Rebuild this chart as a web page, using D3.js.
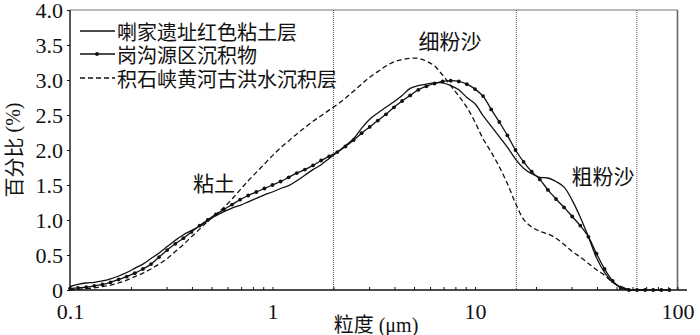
<!DOCTYPE html>
<html><head><meta charset="utf-8">
<script src="https://cdn.jsdelivr.net/npm/d3@7"></script>
<style>
html,body{margin:0;padding:0;background:#fff;}
svg{display:block;}
</style></head>
<body>
<script>
// particle size grid (μm)
const sizes = [0.1000,0.1096,0.1202,0.1318,0.1445,0.1585,0.1738,0.1905,0.2089,0.2291,
0.2512,0.2754,0.3020,0.3311,0.3631,0.3981,0.4365,0.4786,0.5248,0.5754,
0.6310,0.6918,0.7586,0.8318,0.9120,1.000,1.096,1.202,1.318,1.445,
1.585,1.738,1.905,2.089,2.291,2.512,2.754,3.020,3.311,3.631,
3.981,4.365,4.786,5.248,5.754,6.310,6.918,7.586,8.318,9.120,
10.00,10.96,12.02,13.18,14.45,15.85,17.38,19.05,20.89,22.91,
25.12,27.54,30.20,33.11,36.31,39.81,43.65,47.86,52.48,57.54,
63.10,69.18,75.86,83.18,91.20,100.0];

// 喇家遗址红色粘土层 (solid)
const lajia = [0.05,0.08,0.10,0.11,0.13,0.16,0.20,0.25,0.31,0.37,
0.45,0.53,0.62,0.71,0.79,0.85,0.91,0.99,1.06,1.12,
1.17,1.21,1.26,1.31,1.36,1.40,1.45,1.49,1.56,1.64,
1.72,1.79,1.88,1.97,2.06,2.16,2.31,2.44,2.53,2.61,
2.69,2.78,2.88,2.92,2.94,2.96,2.96,2.92,2.86,2.75,
2.66,2.49,2.34,2.19,2.04,1.87,1.74,1.66,1.61,1.60,
1.55,1.47,1.28,1.04,0.76,0.46,0.25,0.11,0.04,0.01,
0,0,0,0,0,0];

// 岗沟源区沉积物 (line + dots)
const gangou = [0.02,0.03,0.04,0.06,0.08,0.11,0.15,0.19,0.24,0.30,
0.37,0.47,0.57,0.66,0.74,0.83,0.92,1.00,1.08,1.15,
1.22,1.29,1.35,1.40,1.45,1.50,1.55,1.61,1.67,1.72,
1.78,1.85,1.91,1.97,2.05,2.14,2.24,2.33,2.42,2.51,
2.61,2.70,2.78,2.86,2.91,2.95,2.98,2.99,2.98,2.94,
2.87,2.77,2.58,2.40,2.21,2.00,1.83,1.69,1.58,1.43,
1.30,1.18,1.05,0.92,0.76,0.52,0.30,0.13,0.03,0,
0,0,0,0,0,0];

// 积石峡黄河古洪水沉积层 (dashed)
const jishixia = [0.00,0.01,0.02,0.03,0.05,0.07,0.10,0.14,0.19,0.24,
0.30,0.37,0.45,0.55,0.65,0.76,0.87,0.98,1.08,1.18,
1.30,1.43,1.56,1.68,1.80,1.92,2.03,2.13,2.23,2.32,
2.41,2.49,2.57,2.65,2.74,2.84,2.94,3.04,3.12,3.20,
3.26,3.29,3.31,3.31,3.27,3.20,3.07,2.92,2.77,2.61,
2.40,2.16,1.97,1.76,1.52,1.24,1.01,0.90,0.84,0.80,
0.74,0.65,0.55,0.47,0.38,0.29,0.21,0.11,0.05,0.01,
0,0,0,0,0,0];

const seriesNames = ["喇家遗址红色粘土层","岗沟源区沉积物","积石峡黄河古洪水沉积层"];
const yTicks = [0,0.5,1.0,1.5,2.0,2.5,3.0,3.5,4.0];
const xMajor = [0.1,1,10,100];
const boundaries = [2,16,63];
const zoneLabels = [{t:"粘土",x:0.514,y:1.55},{t:"细粉沙",x:7.53,y:3.57},{t:"粗粉沙",x:42.9,y:1.64}];

const SERIF = '"Liberation Serif","Times New Roman",serif';
const CJK = '"Noto Sans CJK SC","Noto Sans",sans-serif';

const W=700,H=335;
const svg=d3.select("body").append("svg").attr("width",W).attr("height",H);
const x=d3.scaleLog().domain([0.1,100]).range([70,677.5]);
const y=d3.scaleLinear().domain([0,4]).range([290,10]);

// frame: top and right in gray
svg.append("line").attr("x1",70).attr("x2",677.5).attr("y1",10).attr("y2",10).attr("stroke","#777").attr("stroke-width",1.2);
svg.append("line").attr("x1",677.5).attr("x2",677.5).attr("y1",10).attr("y2",290).attr("stroke","#666").attr("stroke-width",1.6);

// boundaries
svg.selectAll(".bd").data(boundaries).enter().append("line")
 .attr("x1",d=>x(d)).attr("x2",d=>x(d)).attr("y1",y(4)).attr("y2",y(0))
 .attr("stroke","#555").attr("stroke-width",1).attr("stroke-dasharray","1,1");

// tick list (major + minor)
const xTicksAll=[];
[0.1,1,10].forEach(b=>{for(let k=1;k<10;k++)xTicksAll.push(b*k);});
xTicksAll.push(100);

const xa=d3.axisBottom(x).tickValues(xTicksAll).tickSize(-3).tickPadding(13)
 .tickFormat(d=>xMajor.some(m=>Math.abs(m-d)<1e-9)?(Math.abs(d-0.1)<1e-9?"0.1":String(Math.round(d))):"");
const gx=svg.append("g").attr("transform","translate(0,290)").call(xa);
gx.attr("font-family",null).attr("font-size",null);
gx.select(".domain").remove();
gx.selectAll("text").style("font-family",SERIF).style("font-size","22px").attr("fill","#111");
gx.selectAll("line").attr("stroke","#111");
svg.append("line").attr("x1",70).attr("x2",687).attr("y1",290).attr("y2",290).attr("stroke","#111").attr("stroke-width",1.6);

const ya=d3.axisLeft(y).tickValues(yTicks).tickSize(3).tickPadding(4)
 .tickFormat(d=>d===0?"0":d.toFixed(1));
const gy=svg.append("g").attr("transform","translate(70,0)").call(ya);
gy.attr("font-family",null).attr("font-size",null);
gy.select(".domain").remove();
gy.selectAll("text").style("font-family",SERIF).style("font-size","22px").attr("fill","#111");
gy.selectAll("line").attr("stroke","#111");
svg.append("line").attr("x1",70).attr("x2",70).attr("y1",10).attr("y2",290).attr("stroke","#111").attr("stroke-width",1.4);

// axis titles
const yt=svg.append("text").attr("transform","translate(13,150) rotate(-90)")
 .attr("text-anchor","middle").attr("dominant-baseline","central").style("font-size","20px").attr("fill","#111");
yt.append("tspan").style("font-family",CJK).text("百分比");
yt.append("tspan").style("font-family",SERIF).text(" (%)");
const xt=svg.append("text").attr("x",376).attr("y",332).attr("text-anchor","middle").style("font-size","20px").attr("fill","#111");
xt.append("tspan").style("font-family",CJK).text("粒度");
xt.append("tspan").style("font-family",SERIF).text(" (μm)");

// lines
const clipTo=(arr,maxX)=>arr.map((v,i)=>({v,i})).filter(o=>sizes[o.i]<=maxX);
const lineObj=d3.line().x(o=>x(sizes[o.i])).y(o=>y(o.v)).curve(d3.curveCatmullRom.alpha(0.5));

svg.append("path").attr("d",lineObj(clipTo(jishixia,70))).attr("fill","none").attr("stroke","#111").attr("stroke-width",1.3).attr("stroke-dasharray","5,3");
svg.append("path").attr("d",lineObj(clipTo(lajia,70))).attr("fill","none").attr("stroke","#111").attr("stroke-width",1.3);
svg.append("path").attr("d",lineObj(clipTo(gangou,92))).attr("fill","none").attr("stroke","#111").attr("stroke-width",1.3);
svg.selectAll(".pt").data(clipTo(gangou,92)).enter().append("circle")
 .attr("cx",o=>x(sizes[o.i])).attr("cy",o=>y(o.v)).attr("r",1.9).attr("fill","#111");

// zone labels
svg.selectAll(".zl").data(zoneLabels).enter().append("text")
 .attr("x",d=>x(d.x)).attr("y",d=>y(d.y)).attr("text-anchor","middle").attr("dominant-baseline","central")
 .style("font-family",CJK).style("font-size","21px").attr("fill","#111").text(d=>d.t);

// legend
const lg=svg.append("g");
const rows=[31,54,78];
seriesNames.forEach((n,k)=>{
  const ln=lg.append("line").attr("x1",80).attr("x2",115).attr("y1",rows[k]).attr("y2",rows[k]).attr("stroke","#111").attr("stroke-width",1.3);
  if(k===2) ln.attr("stroke-dasharray","5,3");
  if(k===1) lg.append("circle").attr("cx",97).attr("cy",rows[k]).attr("r",1.9).attr("fill","#111");
  lg.append("text").attr("x",117).attr("y",rows[k]).attr("dominant-baseline","central")
   .style("font-family",CJK).style("font-size","20px").attr("fill","#111").text(n);
});
</script>
</body></html>
